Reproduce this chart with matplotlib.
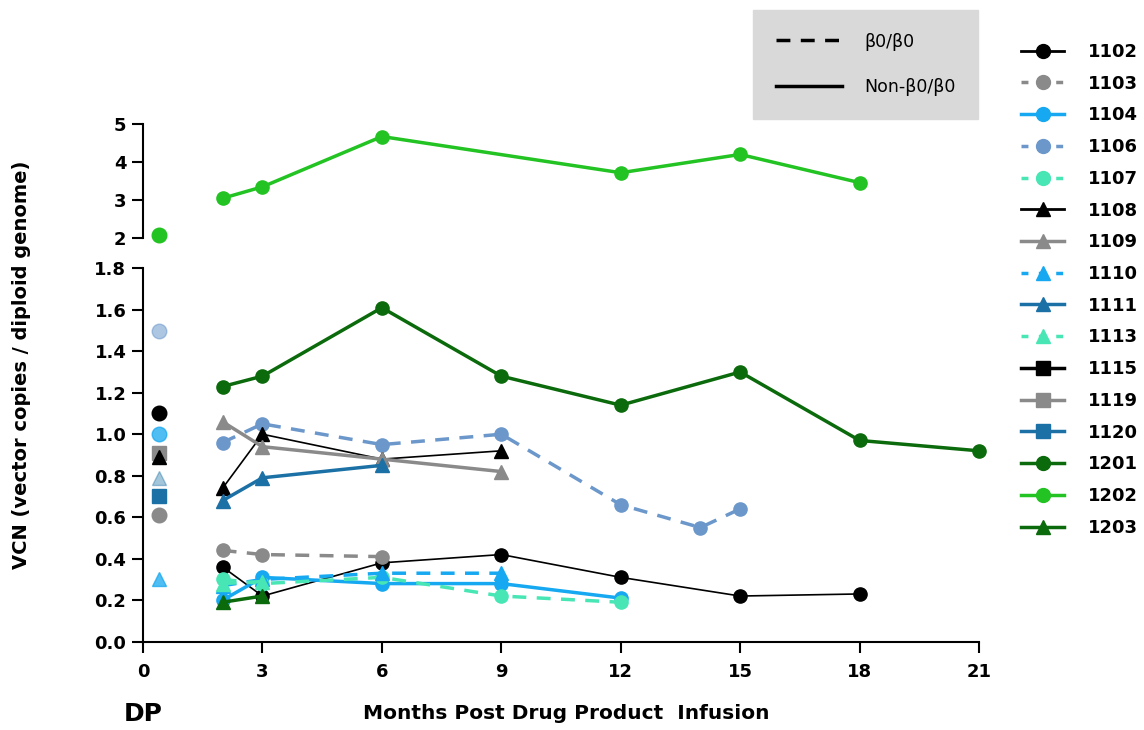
import numpy as np
import matplotlib
matplotlib.use("Agg")
import matplotlib.pyplot as plt
from matplotlib.lines import Line2D

nan = np.nan

# ------------------------------------------
# Data
# ------------------------------------------
months = [2, 3, 6, 9, 12, 14, 15, 18, 21]

vcn_1102 = [0.36, 0.22, 0.38, 0.42, 0.31, nan, 0.22, 0.23, nan]
vcn_1103 = [0.44, 0.42, 0.41, nan, nan, nan, nan, nan, nan]
vcn_1104 = [0.20, 0.31, 0.28, 0.28, 0.21, nan, nan, nan, nan]
vcn_1106 = [0.96, 1.05, 0.95, 1.00, 0.66, 0.55, 0.64, nan, nan]
vcn_1107 = [0.30, 0.28, 0.31, 0.22, 0.19, nan, nan, nan, nan]
vcn_1108 = [0.74, 1.00, 0.88, 0.92, nan, nan, nan, nan, nan]
vcn_1109 = [1.06, 0.94, 0.88, 0.82, nan, nan, nan, nan, nan]
vcn_1110 = [0.27, 0.30, 0.33, 0.33, nan, nan, nan, nan, nan]
vcn_1111 = [0.68, 0.79, 0.85, nan, nan, nan, nan, nan, nan]
vcn_1113 = [0.28, 0.29, nan, nan, nan, nan, nan, nan, nan]
vcn_1115 = [nan, nan, nan, nan, nan, nan, nan, nan, nan]
vcn_1119 = [nan, nan, nan, nan, nan, nan, nan, nan, nan]
vcn_1120 = [nan, nan, nan, nan, nan, nan, nan, nan, nan]
vcn_1201 = [1.23, 1.28, 1.61, 1.28, 1.14, nan, 1.30, 0.97, 0.92]
vcn_1202 = [3.05, 3.35, 4.67, nan, 3.72, nan, 4.20, 3.46, nan]
vcn_1203 = [0.19, 0.22, nan, nan, nan, nan, nan, nan, nan]

patients = ["1102", "1103", "1104", "1106", "1107", "1108", "1109", "1110",
            "1111", "1113", "1115", "1119", "1120", "1201", "1202", "1203"]
series = [vcn_1102, vcn_1103, vcn_1104, vcn_1106, vcn_1107, vcn_1108,
          vcn_1109, vcn_1110, vcn_1111, vcn_1113, vcn_1115, vcn_1119,
          vcn_1120, vcn_1201, vcn_1202, vcn_1203]

# drug product (DP) values
dp_patients = ["1106", "1102", "1104", "1119", "1108", "1111", "1120", "1103", "1110", "1202"]
dp_vcn = [1.50, 1.10, 1.00, 0.91, 0.89, 0.79, 0.70, 0.61, 0.30, 2.08]
dp_alpha = [0.55, 1.0, 0.75, 1.0, 1.0, 0.4, 1.0, 1.0, 0.75, 1.0]
dp_month = 0.4

# ------------------------------------------
# Styles
# ------------------------------------------
black = "#000000"
grey = "#8a8a8a"
sky = "#16a8f0"
steel = "#6b97cb"
aqua = "#48e6b4"
navy = "#1b71a6"
dgreen = "#0b6a0b"
lgreen = "#22c322"

style = {
    "1102": (black, "o", "-", 1.2),
    "1103": (grey, "o", "--", 2.5),
    "1104": (sky, "o", "-", 2.5),
    "1106": (steel, "o", "--", 2.5),
    "1107": (aqua, "o", "--", 2.5),
    "1108": (black, "^", "-", 1.2),
    "1109": (grey, "^", "-", 2.5),
    "1110": (sky, "^", "--", 2.5),
    "1111": (navy, "^", "-", 2.5),
    "1113": (aqua, "^", "--", 2.5),
    "1115": (black, "s", "-", 2.5),
    "1119": (grey, "s", "-", 2.5),
    "1120": (navy, "s", "-", 2.5),
    "1201": (dgreen, "o", "-", 2.5),
    "1202": (lgreen, "o", "-", 2.5),
    "1203": (dgreen, "^", "-", 2.5),
}
ms = 9.5

# ------------------------------------------
# Figure with broken y axis
# ------------------------------------------
fig = plt.figure(figsize=(11.44, 7.30), dpi=100)
ax_lo = fig.add_axes([0.125, 0.121, 0.7308, 0.5115])
ax_hi = fig.add_axes([0.125, 0.6736, 0.7308, 0.1566])

x = np.array(months, dtype=float)
for pid, vals in zip(patients, series):
    v = np.array(vals, dtype=float)
    m = ~np.isnan(v)
    if not m.any():
        continue
    color, marker, ls, lw = style[pid]
    target = ax_hi if pid == "1202" else ax_lo
    line, = target.plot(x[m], v[m], color=color, marker=marker, linestyle=ls,
                        linewidth=lw, markersize=ms, clip_on=False, zorder=3)
    if ls == "--":
        line.set_dashes((4, 3))

for pid, val, a in zip(dp_patients, dp_vcn, dp_alpha):
    color, marker, ls, lw = style[pid]
    target = ax_hi if val > 1.8 else ax_lo
    target.plot([dp_month], [val], color=color, marker=marker, markersize=ms + 1,
                alpha=a, linestyle="none", clip_on=False, zorder=4)

# lower axis
ax_lo.set_xlim(0, 21)
ax_lo.set_ylim(0, 1.8)
ax_lo.set_xticks([0, 3, 6, 9, 12, 15, 18, 21])
ax_lo.set_yticks(np.arange(0, 1.81, 0.2))
ax_lo.set_yticklabels([f"{t:.1f}" for t in np.arange(0, 1.81, 0.2)])
ax_lo.spines["top"].set_visible(False)
ax_lo.spines["right"].set_visible(False)

# upper axis
ax_hi.set_xlim(0, 21)
ax_hi.set_ylim(2, 5)
ax_hi.set_yticks([2, 3, 4, 5])
ax_hi.set_xticks([])
for s in ["top", "right", "bottom"]:
    ax_hi.spines[s].set_visible(False)

for a in (ax_lo, ax_hi):
    a.patch.set_alpha(0)
    for s in a.spines.values():
        s.set_linewidth(1.5)
    a.tick_params(width=1.5, length=8, labelsize=13, pad=4)
    for lab in a.get_xticklabels() + a.get_yticklabels():
        lab.set_fontweight("bold")
ax_lo.tick_params(axis="x", pad=7)

# labels
fig.text(0.019, 0.50, "VCN (vector copies / diploid genome)", rotation=90,
         ha="center", va="center", fontsize=14, fontweight="bold")
fig.text(0.495, 0.022, "Months Post Drug Product  Infusion", ha="center",
         va="center", fontsize=14.5, fontweight="bold")
fig.text(0.125, 0.022, "DP", ha="center", va="center", fontsize=18,
         fontweight="bold")

# patient legend
handles = []
for pid in patients:
    color, marker, ls, lw = style[pid]
    h = Line2D([], [], color=color, marker=marker, linestyle=ls,
               linewidth=max(lw, 2.0), markersize=ms + 0.5)
    if ls == "--":
        h.set_dashes((2, 3))
    handles.append(h)
leg1 = fig.legend(handles, patients, loc="upper left",
                  bbox_to_anchor=(1021 / 1144, 1 - 43 / 730), frameon=False,
                  prop={"size": 13, "weight": "bold"}, handlelength=2.4,
                  handletextpad=1.3, labelspacing=0.76, borderpad=0,
                  borderaxespad=0)

# genotype legend
g_handles = [Line2D([], [], color="black", linestyle="--", linewidth=2.5, dashes=(4, 3)),
             Line2D([], [], color="black", linestyle="-", linewidth=2.5)]
leg2 = fig.legend(g_handles, ["β0/β0", "Non-β0/β0"], loc="upper left",
                  bbox_to_anchor=(753 / 1144, 1 - 10 / 730), frameon=True,
                  fancybox=False, facecolor="#d9d9d9", edgecolor="#d9d9d9",
                  framealpha=1, fontsize=12.5, handlelength=3.8, handletextpad=1.3,
                  labelspacing=1.6, borderpad=1.3, borderaxespad=0)

fig.savefig("out.png", dpi=100)
